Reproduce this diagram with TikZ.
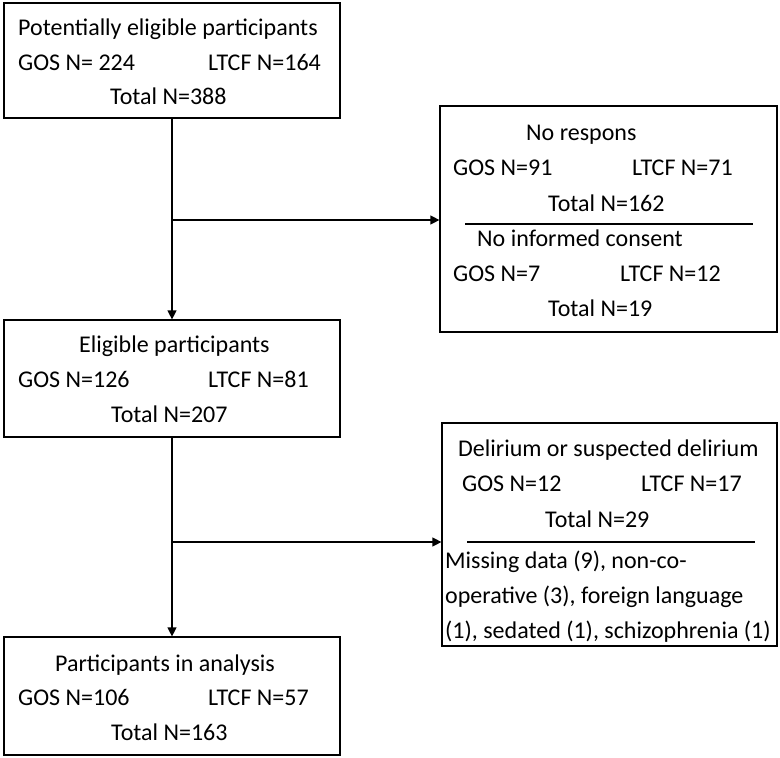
\documentclass[tikz,border=0pt]{standalone}
\usepackage{fontspec}
\setmainfont{Carlito}
\usetikzlibrary{arrows.meta}

\begin{document}
\begin{tikzpicture}[x=1pt,y=-1pt]
\tikzset{
  flowbox/.style={rectangle,draw,line width=1.2pt,inner sep=0pt},
  txt/.style={anchor=base west,inner sep=0pt,font=\fontsize{24}{30}\selectfont},
  flowarrow/.style={-{Triangle[length=9pt,width=9pt]},line width=1.2pt},
  sepline/.style={line width=1.2pt}
}
\useasboundingbox (0,0) rectangle (780,758);
\node[flowbox,minimum width=336pt,minimum height=115pt] (n_pot) at (172,60.5) {};
\node[flowbox,minimum width=337pt,minimum height=226pt] (n_excl) at (608.5,219) {};
\node[flowbox,minimum width=336pt,minimum height=117pt] (n_elig) at (172,378.5) {};
\node[flowbox,minimum width=335pt,minimum height=223pt] (n_del) at (609.5,534.5) {};
\node[flowbox,minimum width=336pt,minimum height=118pt] (n_ana) at (172,696) {};
\node[txt] (t_pot) at (18,35.5) {Potentially eligible participants};
\node[txt] (t_pot_g) at (18,70) {GOS N= 224};
\node[txt] (t_pot_l) at (208,70) {LTCF N=164};
\node[txt] (t_pot_t) at (110,104) {Total N=388};
\node[txt] (t_resp) at (526,140) {No respons};
\node[txt] (t_resp_g) at (453,175) {GOS N=91};
\node[txt] (t_resp_l) at (632,175) {LTCF N=71};
\node[txt] (t_resp_t) at (548,211) {Total N=162};
\node[txt] (t_cons) at (477,246) {No informed consent};
\node[txt] (t_cons_g) at (453,281) {GOS N=7};
\node[txt] (t_cons_l) at (620,281) {LTCF N=12};
\node[txt] (t_cons_t) at (548,316) {Total N=19};
\node[txt] (t_elig) at (79,352) {Eligible participants};
\node[txt] (t_elig_g) at (18,387) {GOS N=126};
\node[txt] (t_elig_l) at (208,387) {LTCF N=81};
\node[txt] (t_elig_t) at (111,422) {Total N=207};
\node[txt] (t_del) at (458,456) {Delirium or suspected delirium};
\node[txt] (t_del_g) at (462,491) {GOS N=12};
\node[txt] (t_del_l) at (641,491) {LTCF N=17};
\node[txt] (t_del_t) at (545,527) {Total N=29};
\node[txt] (t_miss1) at (445,568) {Missing data (9), non-co-};
\node[txt] (t_miss2) at (445,603) {operative (3), foreign language};
\node[txt] (t_miss3) at (445,638) {(1), sedated (1), schizophrenia (1)};
\node[txt] (t_ana) at (55,671) {Participants in analysis};
\node[txt] (t_ana_g) at (18,705) {GOS N=106};
\node[txt] (t_ana_l) at (208,705) {LTCF N=57};
\node[txt] (t_ana_t) at (111,740) {Total N=163};
\coordinate (c_split1) at (172,220);
\coordinate (c_split2) at (172,542);
\draw[sepline] (465,224) -- (753,224);
\draw[sepline] (467,542) -- (755,542);
\draw[flowarrow] (n_pot) -- (n_elig);
\draw[flowarrow] (n_elig) -- (n_ana);
\draw[flowarrow] (c_split1) -- (c_split1 -| n_excl.west);
\draw[flowarrow] (c_split2) -- (c_split2 -| n_del.west);
\end{tikzpicture}
\end{document}
